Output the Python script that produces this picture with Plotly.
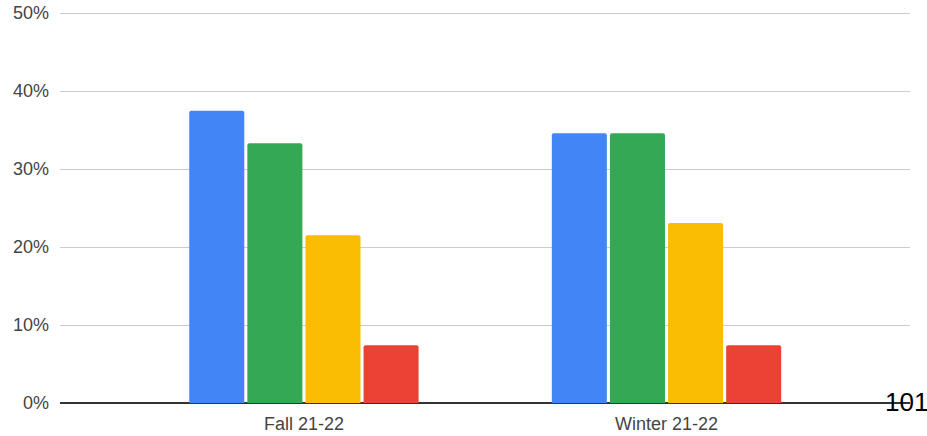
"""Grouped bar chart: share by term."""

import plotly.graph_objects as go

terms = ["Fall 21-22", "Winter 21-22"]
series_names = ["Series 1", "Series 2", "Series 3", "Series 4"]
series_values = [
    [0.375, 0.346],
    [0.333, 0.346],
    [0.215, 0.231],
    [0.074, 0.074],
]
series_colors = ["#4285F4", "#34A853", "#FBBC04", "#EA4335"]
y_ticks = [0, 0.1, 0.2, 0.3, 0.4, 0.5]
page_number = "101"

fig = go.Figure()
for name, values, color in zip(series_names, series_values, series_colors):
    fig.add_trace(go.Bar(x=terms, y=values, name=name, marker_color=color, marker_line_width=0))

# y range runs a hair above 50% so plotly keeps the top gridline
fig.update_layout(
    width=927,
    height=436,
    margin={"l": 60, "r": 17, "t": 12, "b": 33, "autoexpand": False},
    barmode="group",
    bargap=0.359,
    bargroupgap=0.053,
    barcornerradius=2,
    showlegend=False,
    plot_bgcolor="white",
    paper_bgcolor="white",
    font={"family": "Arial, Liberation Sans, sans-serif", "size": 18, "color": "#444444"},
    xaxis={
        "range": [-0.6727, 1.6715],
        "showgrid": False,
        "showline": False,
        "zeroline": False,
        "ticks": "",
        "ticklabelstandoff": 8,
        "automargin": False,
    },
    yaxis={
        "range": [0, 0.5015],
        "tickvals": y_ticks,
        "tickformat": ".0%",
        "showgrid": True,
        "gridcolor": "#cccccc",
        "gridwidth": 1,
        "zeroline": True,
        "zerolinecolor": "#333333",
        "zerolinewidth": 1.5,
        "ticklabelstandoff": 10,
        "automargin": False,
    },
    annotations=[
        {
            "text": page_number,
            "xref": "paper",
            "yref": "paper",
            "x": 1.024,
            "y": 0.003,
            "xanchor": "right",
            "yanchor": "middle",
            "showarrow": False,
            "font": {"size": 26, "color": "#000000"},
        }
    ],
)

# drop the default body margin so the figure sits at the window's corner
fig.write_html(
    "out.html",
    config={"displayModeBar": False},
    post_script="document.body.style.margin = '0';",
)
